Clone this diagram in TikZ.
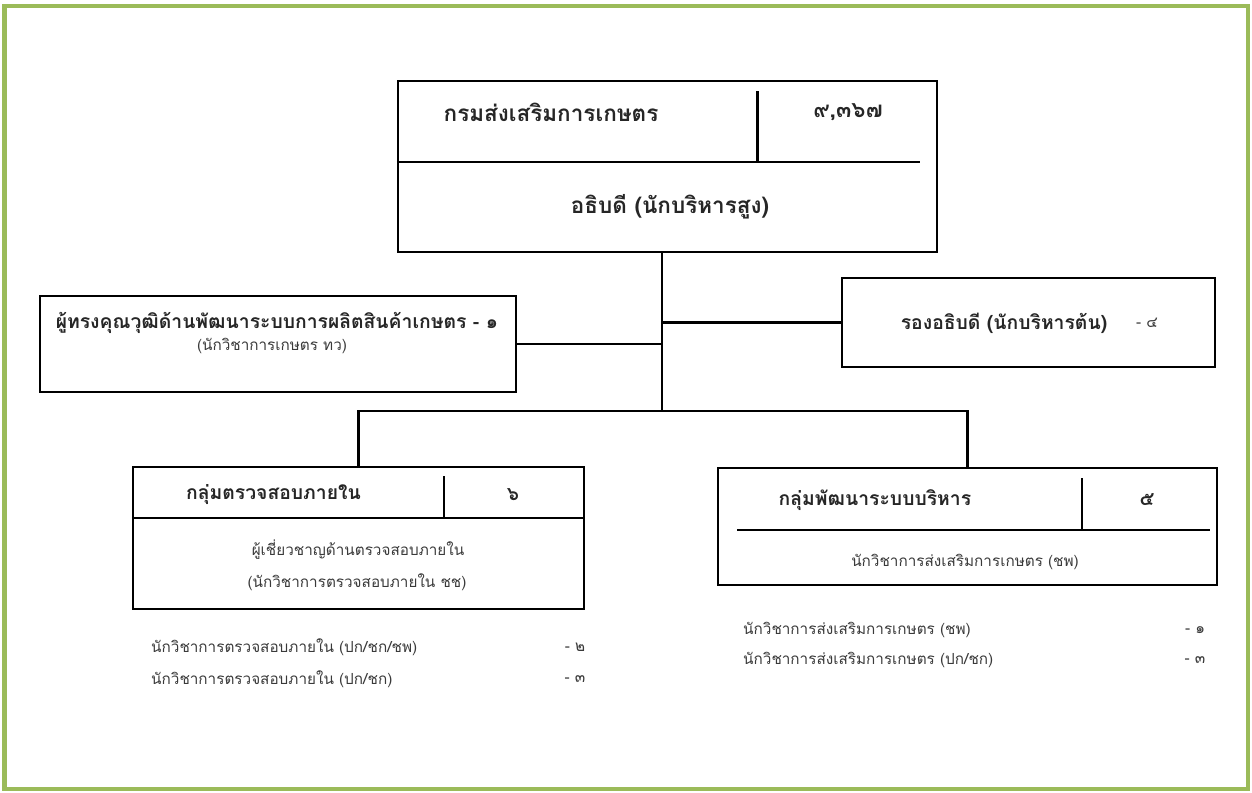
\documentclass[tikz,border=0pt]{standalone}
\usepackage{fontspec}
\newfontfamily\thai[Script=Thai]{Loma}
\definecolor{framegreen}{HTML}{9BBB59}
\definecolor{inkgray}{HTML}{3A3A3A}
\begin{document}
\begin{tikzpicture}[
    box/.style={draw, line width=1.2pt, rectangle, inner sep=0pt},
    wire/.style={line width=1.2pt},
    head/.style={font=\thai\fontsize{11}{13}\selectfont\bfseries, text=black!85},
    bighead/.style={head, font=\thai\fontsize{12.8}{15}\selectfont\bfseries},
    txt/.style={font=\thai\fontsize{8.7}{11}\selectfont, text=inkgray}
    ]
    \useasboundingbox (0,0) rectangle (25.04,-15.84);
    \draw[framegreen, line width=2.5pt] (0.09,-0.12) rectangle (24.96,-15.78);

    % boxes
    \node[box, minimum width=10.78cm, minimum height=3.42cm] (dg) at (13.35,-3.33) {};
    \node[box, minimum width=9.52cm, minimum height=1.92cm] (expert) at (5.56,-6.88) {};
    \node[box, minimum width=7.46cm, minimum height=1.78cm] (deputy) at (20.57,-6.45) {};
    \node[box, minimum width=9.02cm, minimum height=2.84cm] (audit) at (7.17,-10.76) {};
    \node[box, minimum width=9.98cm, minimum height=2.34cm] (admin) at (19.35,-10.53) {};

    % dividers inside the boxes
    \draw[wire] (dg.west |- 0,-3.24) -- (18.4,-3.24) (15.15,-1.82) -- (15.15,-3.24);
    \draw[wire] (audit.west |- 0,-10.36) -- (audit.east |- 0,-10.36) (8.88,-9.52) -- (8.88,-10.36);
    \draw[wire] (14.74,-10.6) -- (24.2,-10.6) (21.64,-9.56) -- (21.64,-10.6);

    % connectors
    \coordinate (bus) at (13.24,-8.22);
    \draw[wire] (dg.south -| bus) -- (bus);
    \draw[wire] (expert.east) -- (expert.east -| bus);
    \draw[wire] (deputy.west) -- (deputy.west -| bus);
    \draw[wire] (audit.north) -- (audit.north |- bus) -- (admin.north |- bus) -- (admin.north);

    % texts
    \node[bighead, anchor=west] (dgname) at (8.75,-2.24) {กรมส่งเสริมการเกษตร};
    \node[bighead] (dgnum) at (16.96,-2.24) {๙,๓๖๗};
    \node[bighead] (dgpos) at (13.4,-4.14) {อธิบดี (นักบริหารสูง)};

    \node[head] (expname) at (5.54,-6.46) {ผู้ทรงคุณวุฒิด้านพัฒนาระบบการผลิตสินค้าเกษตร - ๑};
    \node[txt] (exppos) at (5.44,-6.92) {(นักวิชาการเกษตร ทว)};

    \node[head] (depname) at (20.08,-6.46) {รองอธิบดี (นักบริหารต้น)};
    \node[txt] (depnum) at (22.94,-6.46) {- ๔};

    \node[head, anchor=west] (audname) at (3.6,-9.9) {กลุ่มตรวจสอบภายใน};
    \node[head] (audnum) at (10.26,-9.9) {๖};
    \node[txt] (audpos) at (7.16,-11.0) {ผู้เชี่ยวชาญด้านตรวจสอบภายใน};
    \node[txt] (audpos2) at (7.14,-11.64) {(นักวิชาการตรวจสอบภายใน ชช)};

    \node[head, anchor=west] (admname) at (15.45,-10.0) {กลุ่มพัฒนาระบบบริหาร};
    \node[head] (admnum) at (22.94,-10.0) {๕};
    \node[txt] (admpos) at (19.3,-11.24) {นักวิชาการส่งเสริมการเกษตร (ชพ)};

    % staff lists
    \node[txt, anchor=west] (audst1) at (2.9,-12.94) {นักวิชาการตรวจสอบภายใน (ปก/ชก/ชพ)};
    \node[txt, anchor=west] (audst2) at (2.9,-13.58) {นักวิชาการตรวจสอบภายใน (ปก/ชก)};
    \node[txt] (audn1) at (11.5,-12.94) {- ๒};
    \node[txt] (audn2) at (11.5,-13.58) {- ๓};
    \node[txt, anchor=west] (admst1) at (14.74,-12.6) {นักวิชาการส่งเสริมการเกษตร (ชพ)};
    \node[txt, anchor=west] (admst2) at (14.74,-13.2) {นักวิชาการส่งเสริมการเกษตร (ปก/ชก)};
    \node[txt] (admn1) at (23.9,-12.6) {- ๑};
    \node[txt] (admn2) at (23.9,-13.2) {- ๓};
\end{tikzpicture}
\end{document}
